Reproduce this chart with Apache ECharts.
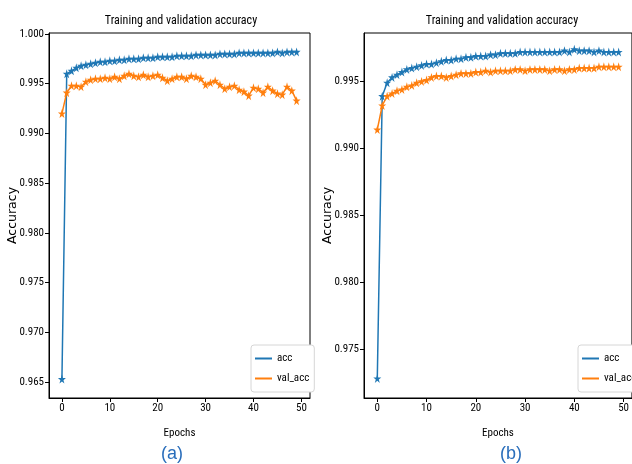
<!DOCTYPE html>
<html>
<head>
<meta charset="utf-8">
<script src="https://cdn.jsdelivr.net/npm/echarts@6/dist/echarts.min.js"></script>
<style>
  html, body { margin: 0; padding: 0; background: #fff; }
  #main { width: 632px; height: 464px; }
</style>
</head>
<body>
<div id="main"></div>
<script>
// (a) training run
const epochs = Array.from({ length: 50 }, (_, i) => i);
const accA = [
  0.9653, 0.9960, 0.9963, 0.9966, 0.9968, 0.9969, 0.9970, 0.9971, 0.9972, 0.9972,
  0.9973, 0.9973, 0.9974, 0.9974, 0.9975, 0.9975, 0.9975, 0.9976, 0.9976, 0.9976,
  0.9977, 0.9977, 0.9977, 0.9977, 0.9978, 0.9978, 0.9978, 0.9978, 0.9979, 0.9979,
  0.9979, 0.9979, 0.9979, 0.9980, 0.9980, 0.9980, 0.9980, 0.9981, 0.9981, 0.9981,
  0.9981, 0.9981, 0.9981, 0.9981, 0.9981, 0.9982, 0.9981, 0.9982, 0.9982, 0.9982,
];
const valAccA = [
  0.9920, 0.9941, 0.9948, 0.9948, 0.9947, 0.9952, 0.9954, 0.9955, 0.9955, 0.9956,
  0.9955, 0.9957, 0.9955, 0.9958, 0.9960, 0.9958, 0.9957, 0.9959, 0.9957, 0.9958,
  0.9959, 0.9956, 0.9953, 0.9955, 0.9957, 0.9957, 0.9955, 0.9958, 0.9957, 0.9955,
  0.9949, 0.9951, 0.9953, 0.9949, 0.9945, 0.9947, 0.9948, 0.9944, 0.9942, 0.9938,
  0.9946, 0.9945, 0.9941, 0.9947, 0.9943, 0.9940, 0.9939, 0.9947, 0.9943, 0.9933,
];

// (b) training run
const accB = [
  0.9728, 0.9939, 0.9949, 0.9953, 0.9955, 0.9957, 0.9959, 0.9960, 0.9961, 0.9962,
  0.9963, 0.9963, 0.9964, 0.9965, 0.9966, 0.9966, 0.9967, 0.9967, 0.9968, 0.9968,
  0.9969, 0.9969, 0.9969, 0.9970, 0.9970, 0.9971, 0.9971, 0.9971, 0.9971, 0.9972,
  0.9972, 0.9972, 0.9972, 0.9972, 0.9972, 0.9972, 0.9972, 0.9972, 0.9973, 0.9972,
  0.9974, 0.9973, 0.9973, 0.9973, 0.9972, 0.9973, 0.9972, 0.9972, 0.9972, 0.9972,
];
const valAccB = [
  0.9914, 0.9932, 0.9939, 0.9941, 0.9943, 0.9944, 0.9946, 0.9947, 0.9949, 0.9950,
  0.9951, 0.9953, 0.9954, 0.9954, 0.9953, 0.9954, 0.9955, 0.9956, 0.9956, 0.9956,
  0.9957, 0.9957, 0.9958, 0.9957, 0.9958, 0.9958, 0.9958, 0.9958, 0.9959, 0.9959,
  0.9958, 0.9959, 0.9959, 0.9959, 0.9959, 0.9958, 0.9959, 0.9959, 0.9958, 0.9959,
  0.9959, 0.9960, 0.9960, 0.9960, 0.9960, 0.9961, 0.9961, 0.9961, 0.9961, 0.9961,
];

const xTicks = [0, 10, 20, 30, 40, 50];
const yTicksA = [0.965, 0.970, 0.975, 0.980, 0.985, 0.990, 0.995, 1.000];
const yTicksB = [0.975, 0.980, 0.985, 0.990, 0.995];

const BLUE = '#1f77b4';
const ORANGE = '#ff7f0e';
const STAR = 'path://M0,-1L0.2245,-0.309L0.951,-0.309L0.363,0.118L0.588,0.809L0,0.382L-0.588,0.809L-0.363,0.118L-0.951,-0.309L-0.2245,-0.309Z';

// narrow text: font-stretch rides along in the weight slot of the canvas font string
const narrow = (size) => ({
  color: '#000',
  fontSize: size,
  fontStyle: 'normal',
  fontWeight: 'normal condensed',
  fontFamily: 'Roboto',
});

const pairs = (ys) => epochs.map((e, i) => [e, ys[i]]);

function xAxisFor(gridIndex, max) {
  return {
    type: 'value',
    gridIndex,
    min: -2.7,
    max,
    name: 'Epochs',
    nameLocation: 'middle',
    nameGap: 30,
    nameTextStyle: narrow(11),
    axisLine: { show: true, onZero: false, lineStyle: { color: '#000' } },
    axisTick: { show: true, length: 4, lineStyle: { color: '#000' }, customValues: xTicks },
    axisLabel: Object.assign(narrow(11), { margin: 5, customValues: xTicks }),
    splitLine: { show: false },
  };
}

function yAxisFor(gridIndex, min, max, ticks) {
  return {
    type: 'value',
    gridIndex,
    min,
    max,
    name: 'Accuracy',
    nameLocation: 'middle',
    nameRotate: 90,
    nameGap: 30,
    nameMoveOverlap: false,
    nameTextStyle: { color: '#000', fontSize: 12.5, fontFamily: 'DejaVu Sans' },
    axisLine: { show: true, onZero: false, lineStyle: { color: '#000' } },
    axisTick: { show: true, length: 4, lineStyle: { color: '#000' }, customValues: ticks },
    axisLabel: Object.assign(narrow(11), {
      margin: 5,
      customValues: ticks,
      formatter: (v) => v.toFixed(3),
    }),
    splitLine: { show: false },
  };
}

function lineSeries(name, color, data, idx) {
  return {
    name,
    type: 'line',
    xAxisIndex: idx,
    yAxisIndex: idx,
    data,
    color,
    symbol: STAR,
    symbolSize: [8, 9],
    showAllSymbol: true,
    lineStyle: { width: 1.5, color },
    itemStyle: { color },
    animation: false,
  };
}

function legendAt(left) {
  return {
    orient: 'vertical',
    left,
    top: 345,
    data: ['acc', 'val_acc'],
    icon: 'rect',
    itemWidth: 17,
    itemHeight: 2,
    itemGap: 9,
    padding: [8, 5, 8, 4],
    backgroundColor: '#fff',
    borderColor: '#d6d6d6',
    borderWidth: 1,
    borderRadius: 3,
    textStyle: narrow(11),
    selectedMode: false,
  };
}

const chart = echarts.init(document.getElementById('main'), null, { renderer: 'canvas' });

const option = {
  backgroundColor: '#fff',
  animation: false,
  title: [
    {
      text: 'Training and validation accuracy', left: 176, top: 10, textAlign: 'center',
      textStyle: narrow(12),
    },
    {
      text: 'Training and validation accuracy', left: 497, top: 10, textAlign: 'center',
      textStyle: narrow(12),
    },
    {
      text: '(a)', left: 167, top: 440, textAlign: 'center',
      textStyle: { fontSize: 18, fontWeight: 'normal', color: '#2a6ebb', fontFamily: 'Liberation Sans' },
    },
    {
      text: '(b)', left: 506, top: 440, textAlign: 'center',
      textStyle: { fontSize: 18, fontWeight: 'normal', color: '#2a6ebb', fontFamily: 'Liberation Sans' },
    },
  ],
  legend: [legendAt(251), legendAt(578)],
  grid: [
    { left: 49, top: 33, width: 261, height: 365, show: true, borderColor: '#000', borderWidth: 1 },
    { left: 364, top: 33, width: 273, height: 365, show: true, borderColor: '#000', borderWidth: 1 },
  ],
  xAxis: [xAxisFor(0, 51.8), xAxisFor(1, 51.7)],
  yAxis: [
    yAxisFor(0, 0.9634, 1.0001, yTicksA),
    yAxisFor(1, 0.97134, 0.99862, yTicksB),
  ],
  series: [
    lineSeries('acc', BLUE, pairs(accA), 0),
    lineSeries('val_acc', ORANGE, pairs(valAccA), 0),
    lineSeries('acc', BLUE, pairs(accB), 1),
    lineSeries('val_acc', ORANGE, pairs(valAccB), 1),
  ],
};

chart.setOption(option);
</script>
</body>
</html>
